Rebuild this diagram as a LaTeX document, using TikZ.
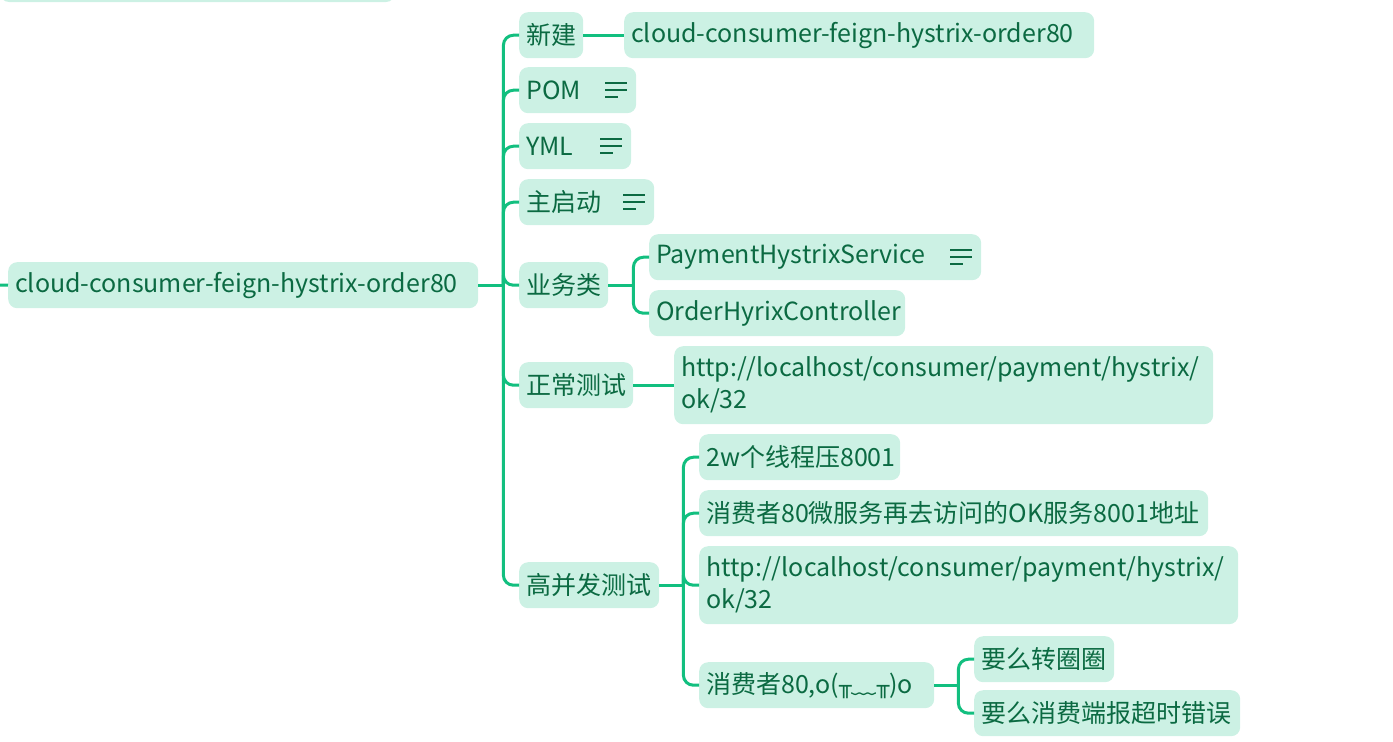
\documentclass[tikz,border=0pt]{standalone}
\usepackage{fontspec}
\setmainfont{Noto Sans CJK SC}
\newfontfamily\boxfont{DejaVu Sans}
\usetikzlibrary{calc}
\definecolor{fillc}{HTML}{CCF1E4}
\definecolor{txtc}{HTML}{0B6A42}
\definecolor{linec}{HTML}{12BF7F}
\tikzset{
  mmbox/.style={draw=none, fill=fillc, rounded corners=9pt, text=txtc, anchor=north west,
    inner xsep=7pt, inner ysep=0pt, align=left,
    font=\fontsize{25}{32}\selectfont},
  conn/.style={draw=linec, line width=3pt, rounded corners=10pt},
  icn/.style={draw=txtc, line width=1.6pt}
}
\newcommand\mmn[6]{\node[mmbox, minimum width=#4pt, minimum height=#5pt, text width=\dimexpr#4pt-14pt\relax] (#1) at (#2,#3) {#6};}
\newcommand\mmicon[1]{%
  \draw[icn] ($(#1.east)+(-31,-7)$) -- ++(22,0);
  \draw[icn] ($(#1.east)+(-31,0)$) -- ++(22,0);
  \draw[icn] ($(#1.east)+(-31,7)$) -- ++(13,0);}
\newcommand\tee{{\boxfont\fontsize{21}{21}\selectfont ╥}}
\begin{document}
\begin{tikzpicture}[x=1pt,y=-1pt]
\useasboundingbox (0,0) rectangle (1393,742);
% clipped node at the top
\fill[fillc, rounded corners=9pt] (0,-30) rectangle (395,2);
% nodes
\mmn{root}{8}{262}{470}{46}{cloud-consumer-feign-hystrix-order80}
\mmn{nj}{519}{12}{64}{46}{新建}
\mmn{nja}{624}{12}{470}{46}{cloud-consumer-feign-hystrix-order80}
\mmn{pom}{519}{67}{117}{46}{POM}
\mmn{yml}{519}{123}{112}{46}{YML}
\mmn{zqd}{519}{179}{135}{46}{主启动}
\mmn{ywl}{519}{262}{89}{46}{业务类}
\mmn{phs}{649}{234}{332}{46}{PaymentHystrixService}
\mmn{ohc}{649}{290}{256}{46}{OrderHyrixController}
\mmn{zccs}{519}{362}{114}{46}{正常测试}
\mmn{urla}{674}{346}{539}{78}{http://localhost/consumer/payment/hystrix/\\ok/32}
\mmn{gbf}{519}{562}{140}{46}{高并发测试}
\mmn{ga}{699}{434}{201}{46}{2w个线程压8001}
\mmn{gb}{699}{490}{509}{46}{消费者80微服务再去访问的OK服务8001地址}
\mmn{gc}{699}{546}{539}{78}{http://localhost/consumer/payment/hystrix/\\ok/32}
\mmn{gd}{699}{662}{235}{46}{消费者80,o(\tee﹏\tee)o}
\mmn{gda}{974}{636}{140}{46}{要么转圈圈}
\mmn{gdb}{974}{690}{266}{46}{要么消费端报超时错误}
% icons
\mmicon{pom}
\mmicon{yml}
\mmicon{zqd}
\mmicon{phs}
% connectors
\coordinate (stub) at (0,285);
\draw[conn] (stub) -- (root.west);
\coordinate (rj) at ($(root.east)+(25,0)$);
\draw[conn] (root.east) -- (rj);
\foreach \c in {nj,pom,yml,zqd,ywl,zccs,gbf} { \draw[conn] (rj) |- (\c.west); }
\draw[conn] (nj.east) -- (nja.west);
\coordinate (yj) at ($(ywl.east)+(25,0)$);
\draw[conn] (ywl.east) -- (yj);
\foreach \c in {phs,ohc} { \draw[conn] (yj) |- (\c.west); }
\draw[conn] (zccs.east) -- (zccs.east -| urla.west);
\coordinate (gj) at ($(gbf.east)+(24,0)$);
\draw[conn] (gbf.east) -- (gj);
\foreach \c in {ga,gb,gc,gd} { \draw[conn] (gj) |- (\c.west); }
\coordinate (dj) at ($(gd.east)+(24,0)$);
\draw[conn] (gd.east) -- (dj);
\foreach \c in {gda,gdb} { \draw[conn] (dj) |- (\c.west); }
\end{tikzpicture}
\end{document}
